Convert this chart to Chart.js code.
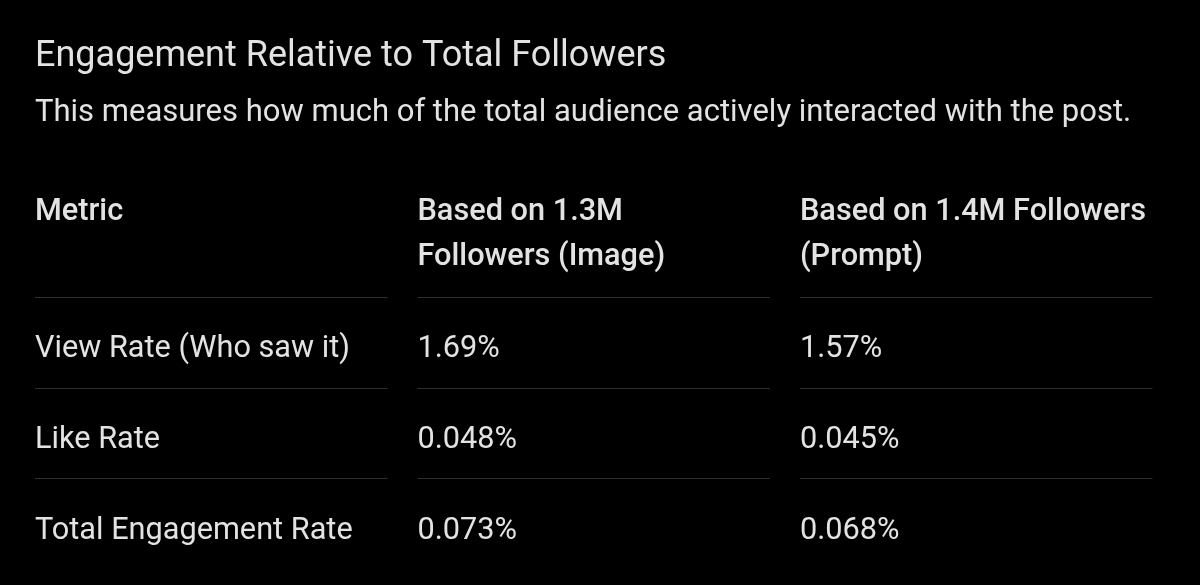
<!DOCTYPE html>
<html>
<head>
<meta charset="utf-8">
<script src="https://cdn.jsdelivr.net/npm/chart.js@4.4.1/dist/chart.umd.min.js"></script>
<style>
  html, body { margin: 0; padding: 0; background: #000; }
  #wrap { width: 1200px; height: 585px; }
</style>
</head>
<body>
<div id="wrap"><canvas id="c" width="1200" height="585"></canvas></div>
<script>
// ---- data ----
const titleText = 'Engagement Relative to Total Followers';
const subtitleText = 'This measures how much of the total audience actively interacted with the post.';
const columns = ['Metric', 'Based on 1.3M Followers (Image)', 'Based on 1.4M Followers (Prompt)'];
const headerLines = [['Metric'], ['Based on 1.3M', 'Followers (Image)'], ['Based on 1.4M Followers', '(Prompt)']];
const metrics = ['View Rate (Who saw it)', 'Like Rate', 'Total Engagement Rate'];
const imageRates = [1.69, 0.048, 0.073];
const promptRates = [1.57, 0.045, 0.068];

// ---- style ----
const FONT = 'Roboto, "Noto Sans", sans-serif';
const TEXT = '#e3e3e3';
const RULE = '#2e2e2e';
const COL_GAP = 30;
const BODY_SIZE = 30.7;

const tablePlugin = {
  id: 'tableCells',
  afterDraw(chart) {
    const ctx = chart.ctx;
    const xs = chart.scales.x, ys = chart.scales.y;
    const colW = (xs.right - xs.left) / columns.length;
    const rowH = (ys.bottom - ys.top) / metrics.length;
    const valueCols = [metrics, imageRates.map(v => v + '%'), promptRates.map(v => v + '%')];
    ctx.save();
    ctx.textAlign = 'left';
    ctx.textBaseline = 'alphabetic';
    // header
    ctx.fillStyle = TEXT;
    ctx.font = '500 ' + BODY_SIZE + 'px ' + FONT;
    columns.forEach((c, ci) => {
      const x0 = xs.getPixelForValue(ci) - colW / 2;
      headerLines[ci].forEach((ln, li) => {
        ctx.fillText(ln, x0, ys.top - 77 + li * 45);
      });
    });
    // rows
    ctx.font = '400 ' + BODY_SIZE + 'px ' + FONT;
    metrics.forEach((m, ri) => {
      const yc = ys.getPixelForValue(ri);
      const yTop = yc - rowH / 2;
      columns.forEach((c, ci) => {
        const x0 = xs.getPixelForValue(ci) - colW / 2;
        ctx.strokeStyle = RULE;
        ctx.lineWidth = 1;
        ctx.beginPath();
        ctx.moveTo(x0, Math.round(yTop) + 0.5);
        ctx.lineTo(x0 + colW - COL_GAP, Math.round(yTop) + 0.5);
        ctx.stroke();
        ctx.fillStyle = TEXT;
        ctx.fillText(String(valueCols[ci][ri]), x0, yc + 15);
      });
    });
    ctx.restore();
  }
};

new Chart(document.getElementById('c'), {
  type: 'scatter',
  data: { datasets: [] },
  options: {
    responsive: false,
    animation: false,
    events: [],
    layout: { padding: { top: 35, left: 35, right: 17.5, bottom: 16 } },
    scales: {
      x: { type: 'category', labels: columns, offset: true, display: false },
      y: { type: 'category', labels: metrics, offset: true, display: false }
    },
    plugins: {
      legend: { display: false },
      tooltip: { enabled: false },
      title: {
        display: true, text: titleText, align: 'start', color: TEXT,
        font: { family: FONT, size: 36, weight: 400, lineHeight: 1.2 },
        padding: { top: 0, bottom: 16.2 }
      },
      subtitle: {
        display: true, text: subtitleText, align: 'start', color: TEXT,
        font: { family: FONT, size: 31, weight: 400, lineHeight: 1.2 },
        padding: { top: 0, bottom: 165.4 }
      }
    }
  },
  plugins: [tablePlugin]
});
</script>
</body>
</html>
